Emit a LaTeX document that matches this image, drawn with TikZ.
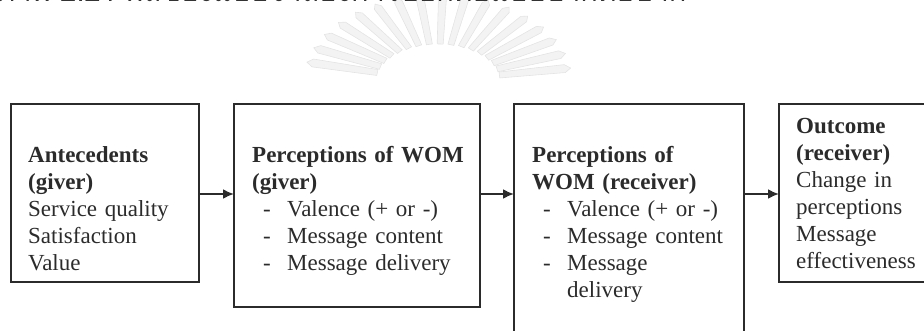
\documentclass[tikz,border=0pt]{standalone}
\usepackage{fontspec}
\setmainfont{Liberation Serif}
\newfontfamily\thaifont[Script=Thai]{Loma}
\usetikzlibrary{arrows.meta}

\definecolor{ink}{HTML}{2B2B2B}
\definecolor{rayfill}{HTML}{F3F3F3}
\definecolor{rayedge}{HTML}{E4E4E4}

\tikzset{
  panel/.style={draw=ink, line width=2pt},
  flow/.style={draw=ink, line width=2pt, -{Latex[length=11pt,width=10pt]}},
  body/.style={anchor=base west, inner sep=0pt, text=ink, align=left,
    text width=230pt, font=\fontsize{23}{27}\selectfont},
  caption/.style={anchor=base west, inner sep=0pt, text=black!80,
    font=\thaifont\fontsize{29}{32}\selectfont},
}

% bullet item with a hanging dash
\newcommand{\dashitem}{\makebox[35pt][l]{\hspace{11pt}-}}

\begin{document}
\begin{tikzpicture}[x=1pt, y=-1pt]
  \useasboundingbox (0,0) rectangle (924,330);

  % faint emblem watermark: a fan of rays
  \begin{scope}
    \clip (300,0) rectangle (600,78);
    \foreach \a in {8,18,...,172} {
      \fill[rayfill, draw=rayedge, line width=0.6pt]
        ({438+62*cos(\a)-3*sin(\a)},{80-36*sin(\a)-3*cos(\a)})
        -- ({438+128*cos(\a)-4*sin(\a)},{80-82*sin(\a)-4*cos(\a)})
        -- ({438+134*cos(\a)},{80-86*sin(\a)})
        -- ({438+128*cos(\a)+4*sin(\a)},{80-82*sin(\a)+4*cos(\a)})
        -- ({438+62*cos(\a)+3*sin(\a)},{80-36*sin(\a)+3*cos(\a)}) -- cycle;
    }
  \end{scope}

  % caption line, cut off by the top edge
  \node[caption] (cap) at (-4,1.5) {ภาพ 2.21 ผลของแบบจำลองการบอกต่อแบบปากต่อปาก};

  % boxes
  \draw[panel] (11,104) rectangle (199,282);
  \draw[panel] (234,104) rectangle (480,307);
  \draw[panel] (514,104) rectangle (744,345);
  \draw[panel] (779,104) rectangle (940,282);

  \coordinate (b1e) at (199,194);
  \coordinate (b2w) at (234,194);
  \coordinate (b2e) at (480,194);
  \coordinate (b3w) at (514,194);
  \coordinate (b3e) at (744,194);
  \coordinate (b4w) at (779,194);

  \node[body] (t1) at (28,162) {\textbf{Antecedents}\\\textbf{(giver)}\\Service quality\\Satisfaction\\Value};
  \node[body] (t2) at (252,162) {\textbf{Perceptions of WOM}\\\textbf{(giver)}\\\dashitem Valence (+ or -)\\\dashitem Message content\\\dashitem Message delivery};
  \node[body] (t3) at (532,162) {\textbf{Perceptions of}\\\textbf{WOM (receiver)}\\\dashitem Valence (+ or -)\\\dashitem Message content\\\dashitem Message\\\hspace*{35pt}delivery};
  \node[body] (t4) at (796,133) {\textbf{Outcome}\\\textbf{(receiver)}\\Change in\\perceptions\\Message\\effectiveness};

  % connectors
  \draw[flow] (b1e) -- (b2w);
  \draw[flow] (b2e) -- (b3w);
  \draw[flow] (b3e) -- (b4w);
\end{tikzpicture}
\end{document}
